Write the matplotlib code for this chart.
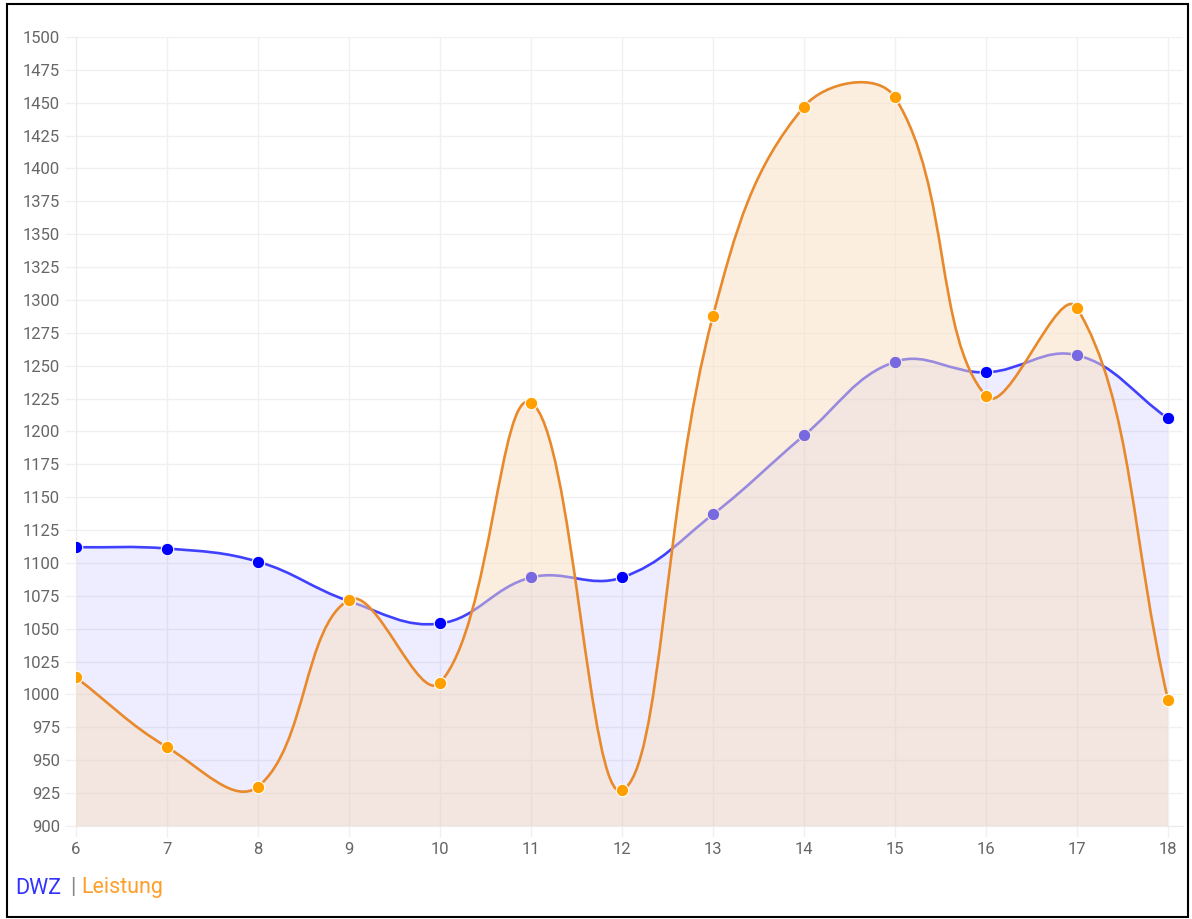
import numpy as np
import matplotlib
matplotlib.use("Agg")
import matplotlib.pyplot as plt
from matplotlib.path import Path
from matplotlib.patches import PathPatch, Rectangle

# Values
rounds = [6, 7, 8, 9, 10, 11, 12, 13, 14, 15, 16, 17, 18]
dwz = [1112, 1111, 1101, 1071, 1054, 1089, 1089, 1137, 1197, 1253, 1245, 1258, 1210]
leistung = [1013, 960, 930, 1072, 1009, 1222, 927, 1288, 1447, 1454, 1227, 1294, 996]
y_ticks = list(range(900, 1501, 25))

plt.rcParams['font.family'] = ['Roboto', 'DejaVu Sans']

# pixel scale of the plot area (used like Chart.js for spline distances)
PX_X = 91.0
PX_Y = 789.0 / 600.0


def spline_path(xs, ys, tension=0.4, close_base=None):
    """Chart.js style bezier through the points, returns a matplotlib Path."""
    xs = np.asarray(xs, float)
    ys = np.asarray(ys, float)
    n = len(xs)
    px, py = xs * PX_X, ys * PX_Y
    cp_prev, cp_next = [], []
    for i in range(n):
        p0 = i - 1 if i > 0 else i
        p2 = i + 1 if i < n - 1 else i
        d01 = np.hypot(px[i] - px[p0], py[i] - py[p0])
        d12 = np.hypot(px[p2] - px[i], py[p2] - py[i])
        tot = d01 + d12
        s01 = d01 / tot if tot else 0
        s12 = d12 / tot if tot else 0
        fa, fb = tension * s01, tension * s12
        dx, dy = px[p2] - px[p0], py[p2] - py[p0]
        cp_prev.append(((px[i] - fa * dx) / PX_X, (py[i] - fa * dy) / PX_Y))
        cp_next.append(((px[i] + fb * dx) / PX_X, (py[i] + fb * dy) / PX_Y))
    verts = [(xs[0], ys[0])]
    codes = [Path.MOVETO]
    for i in range(1, n):
        verts += [cp_next[i - 1], cp_prev[i], (xs[i], ys[i])]
        codes += [Path.CURVE4] * 3
    if close_base is not None:
        verts += [(xs[-1], close_base), (xs[0], close_base), (xs[0], ys[0])]
        codes += [Path.LINETO, Path.LINETO, Path.CLOSEPOLY]
    return Path(verts, codes)


fig = plt.figure(figsize=(11.92, 9.19), dpi=100)
ax = fig.add_axes([76 / 1192, 1 - 826 / 919, (1183 - 76) / 1192, (826 - 37) / 919])

ax.set_xlim(6, 18 + 15 / PX_X)
ax.set_ylim(900, 1500)

# DWZ (underneath)
ax.add_patch(PathPatch(spline_path(rounds, dwz, close_base=900),
                       facecolor=(0, 0, 1, 0.07), edgecolor='none', zorder=2))
ax.add_patch(PathPatch(spline_path(rounds, dwz), facecolor='none',
                       edgecolor=(0.25, 0.25, 1.0), lw=1.9, zorder=3))
ax.plot(rounds, dwz, 'o', color='#0000ff', markersize=9,
        markeredgecolor='white', markeredgewidth=0.8, zorder=4)

# Leistung (fill covers the DWZ line)
ax.add_patch(PathPatch(spline_path(rounds, leistung, close_base=900),
                       facecolor=(250 / 255, 221 / 255, 190 / 255, 0.48),
                       edgecolor='none', zorder=5))
ax.add_patch(PathPatch(spline_path(rounds, leistung), facecolor='none',
                       edgecolor='#e8892b', lw=1.9, zorder=6))
ax.plot(rounds, leistung, 'o', color='#ffa000', markersize=9,
        markeredgecolor='white', markeredgewidth=0.8, zorder=7)

# grid and ticks
ax.set_xticks(rounds)
ax.set_yticks(y_ticks)
ax.grid(True, color='#f0f0f0', lw=1, zorder=0)
ax.tick_params(axis='both', colors='#f0f0f0', labelcolor='#666666',
               labelsize=12, length=8, width=1)
for s in ax.spines.values():
    s.set_visible(False)
ax.spines['left'].set_visible(True)
ax.spines['left'].set_color('#ebebeb')
ax.spines['bottom'].set_visible(True)
ax.spines['bottom'].set_color('#ebebeb')

# legend text
fig.text(15 / 1192, 1 - 888 / 919, 'DWZ', color='#3333ff', fontsize=15.5, va='center')
fig.text(70 / 1192, 1 - 888 / 919, '|', color='#888888', fontsize=15.5, va='center')
fig.text(81 / 1192, 1 - 888 / 919, 'Leistung', color='#ff9f2a', fontsize=15.5, va='center')

# screenshot frame
fig.patches.append(Rectangle((7 / 1192, 2 / 919), 1181 / 1192, 913 / 919,
                             transform=fig.transFigure, fill=False,
                             edgecolor='black', lw=1.5))

fig.savefig('out.png', dpi=100)
